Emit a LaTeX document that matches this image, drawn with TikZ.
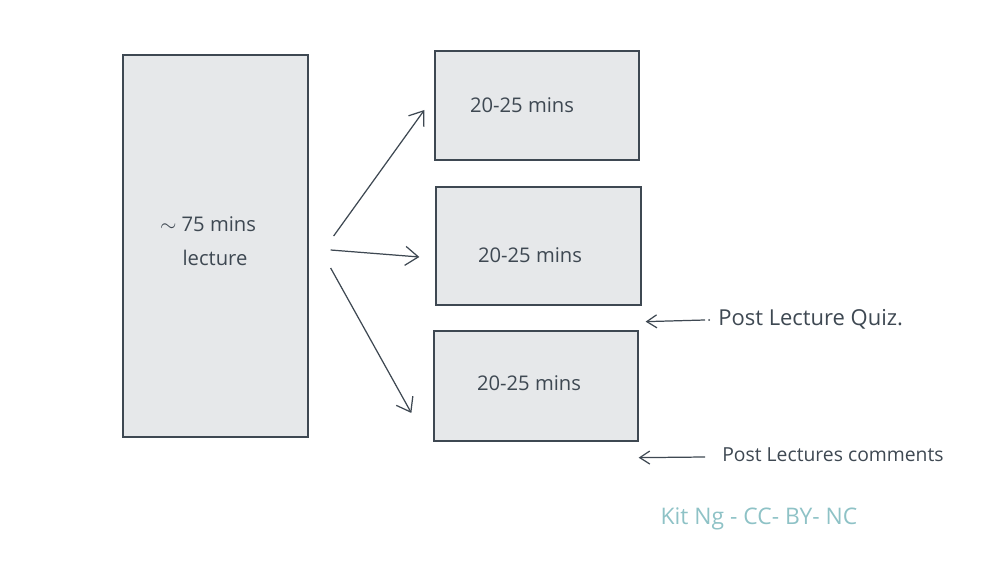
\documentclass[tikz,border=0pt]{standalone}
\usepackage{fontspec}
\setmainfont{Open Sans}
\usetikzlibrary{arrows.meta,positioning,calc}
\definecolor{boxfill}{HTML}{E6E8EA}
\definecolor{inkline}{HTML}{3E4852}
\definecolor{signcol}{HTML}{8EC2C6}

\begin{document}
\begin{tikzpicture}[x=0.02cm,y=-0.02cm,
    slot/.style={draw=inkline,fill=boxfill,line width=0.75pt,inner sep=0pt},
    hand/.style={text=inkline,font=\fontsize{11.5}{13}\selectfont,inner sep=0pt},
    arr/.style={draw=inkline,line width=0.7pt,-{Straight Barb[length=2.6mm,width=3.8mm]}},
    smallarr/.style={draw=inkline,line width=0.7pt,-{Straight Barb[length=2mm,width=2.6mm]}}]
  \useasboundingbox (0,0) rectangle (1000,567);

  % lecture block
  \node[slot,minimum width=3.7cm,minimum height=7.64cm] (lecture) at (215.5,246) {};
  \node[hand] (length) at (208,224) {$\sim$ 75 mins};
  \node[hand] (lecturetext) at (215,258) {lecture};

  % chunks
  \node[slot,minimum width=4.08cm,minimum height=2.18cm] (chunka) at (537,105.5) {};
  \node[slot,minimum width=4.1cm,minimum height=2.36cm] (chunkb) at (538.5,246) {};
  \node[slot,minimum width=4.08cm,minimum height=2.2cm] (chunkc) at (536,386) {};
  \node[hand] (texta) at (522,105) {20-25 mins};
  \node[hand] (textb) at (530,255) {20-25 mins};
  \node[hand] (textc) at (529,383) {20-25 mins};

  % split arrows
  \coordinate (taila) at ($(lecture.east)+(25,-10)$);
  \coordinate (tailb) at ($(lecture.east)+(22,4)$);
  \coordinate (tailc) at ($(lecture.east)+(22,22)$);
  \draw[arr] (taila) -- ($(chunka.west)+(-10,4.5)$);
  \draw[arr] (tailb) -- ($(chunkb.west)+(-16,11)$);
  \draw[arr] (tailc) -- ($(chunkc.west)+(-22,27)$);

  % side notes
  \node[hand,anchor=west,font=\fontsize{12.5}{14}\selectfont] (quiz) at (718,319) {Post Lecture Quiz.};
  \node[hand,anchor=west,font=\fontsize{11}{13}\selectfont] (comments) at (722,455) {Post Lectures comments};
  \fill[inkline] ($(quiz.west)+(-9,1)$) circle (1);
  \draw[smallarr] ($(quiz.west)+(-13,1)$) -- ($(chunkb.south east)+(4,16)$);
  \draw[smallarr] ($(comments.west)+(-17,2)$) -- ($(chunkc.south east)+(0,16)$);

  \node[hand,text=signcol,font=\fontsize{13}{15}\selectfont] (credit) at (759,519) {Kit Ng - CC- BY- NC};
\end{tikzpicture}
\end{document}
